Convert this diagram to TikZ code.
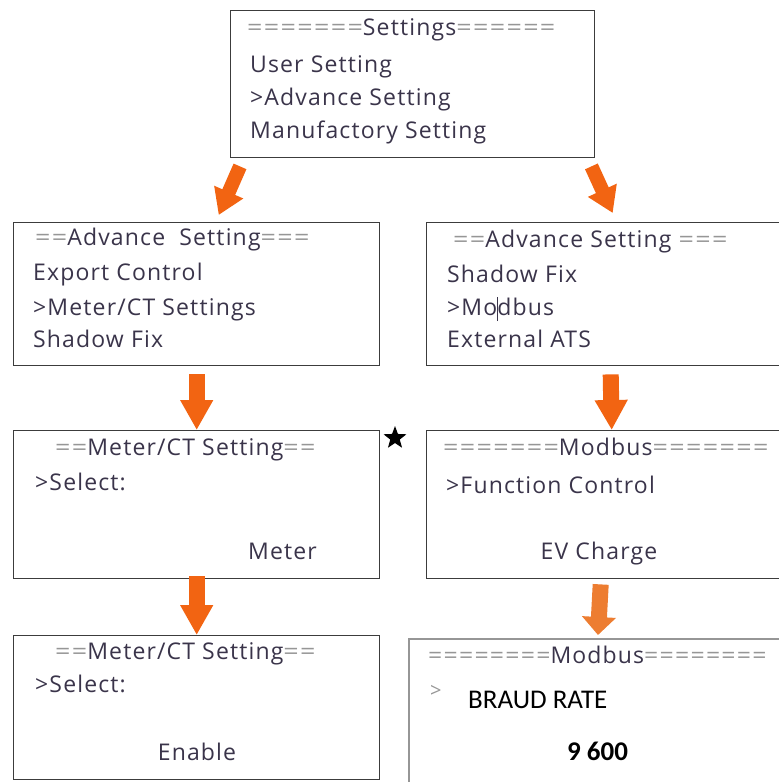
\documentclass[tikz,border=0pt]{standalone}
\usepackage{fontspec}
\setmainfont{Open Sans}[LetterSpace=5]
\newfontfamily\calfont{Carlito}
\usetikzlibrary{arrows.meta,shapes.geometric}

\definecolor{lcdframe}{RGB}{60,60,60}
\definecolor{lcdtext}{RGB}{58,52,74}
\definecolor{lcdrule}{RGB}{150,150,150}
\definecolor{flowarrow}{RGB}{242,100,18}
\definecolor{flowlight}{RGB}{237,125,49}

% the = runs on the screens are set wider than the letters
\newcommand{\eqs}[2][1.17]{\textcolor{lcdrule}{\scalebox{#1}[1]{#2}}}

\tikzset{
  screen/.style={draw=lcdframe, line width=1.4pt, inner sep=0pt, anchor=north west},
  lcdline/.style={anchor=base west, inner sep=0pt, text=lcdtext,
    font=\fontsize{23}{27}\selectfont},
  flow/.style={draw=flowarrow, line width=16pt,
    -{Triangle[width=31pt,length=30pt]}},
  flowslant/.style={draw=flowarrow, line width=14pt,
    -{Triangle[width=30pt,length=25pt]}}
}

\begin{document}
\begin{tikzpicture}[x=1pt,y=-1pt]

  \useasboundingbox (0,0) rectangle (779,782);
  \clip (0,0) rectangle (779,782);

  % screens (the right column runs off the page edge)
  \node[screen, minimum width=364pt, minimum height=147pt] (settings) at (230,10) {};
  \node[screen, minimum width=366pt, minimum height=143pt] (advL) at (13,222) {};
  \node[screen, minimum width=370pt, minimum height=143pt] (advR) at (426,222) {};
  \node[screen, minimum width=366pt, minimum height=148pt] (meterA) at (13,430) {};
  \node[screen, minimum width=370pt, minimum height=148pt] (modbusA) at (426,430) {};
  \node[screen, minimum width=366pt, minimum height=144pt] (meterB) at (13,635) {};
  \node[screen, draw=lcdrule, line width=2pt, minimum width=390pt, minimum height=160pt] (modbusB) at (408,638) {};

  % Settings
  \node[lcdline] (setT0) at (247,35) {\eqs{=======}Settings\eqs{======}};
  \node[lcdline] (setT1) at (250,72) {User Setting};
  \node[lcdline] (setT2) at (250,105) {>Advance Setting};
  \node[lcdline] (setT3) at (250,138) {Manufactory Setting};

  % Advance Setting, left
  \node[lcdline] (advLT0) at (35,245) {\eqs{==}Advance\ \ Setting\eqs{===}};
  \node[lcdline] (advLT1) at (33,280) {Export Control};
  \node[lcdline] (advLT2) at (33,315) {>Meter/CT Settings};
  \node[lcdline] (advLT3) at (33,347) {Shadow Fix};

  % Advance Setting, right
  \node[lcdline] (advRT0) at (453,247) {\eqs{==}Advance Setting \eqs{===}};
  \node[lcdline] (advRT1) at (447,282) {Shadow Fix};
  \node[lcdline] (advRT2) at (447,315) {>Mo\rlap{\rule[-6pt]{1pt}{24pt}}dbus};
  \node[lcdline] (advRT3) at (447,347) {External ATS};

  % Meter/CT Setting
  \node[lcdline] (meterAT0) at (55,455) {\eqs{==}Meter/CT Setting\eqs{==}};
  \node[lcdline] (meterAT1) at (35,490) {>Select:};
  \node[lcdline] (meterAT2) at (248,559) {Meter};

  % Modbus
  \node[lcdline] (modbusAT0) at (443,455) {\eqs{=======}Modbus\eqs{=======}};
  \node[lcdline] (modbusAT1) at (446,493) {>Function Control};
  \node[lcdline, anchor=base] (modbusAT2) at (599,559) {EV Charge};

  % Meter/CT Setting, enable
  \node[lcdline] (meterBT0) at (55,659) {\eqs{==}Meter/CT Setting\eqs{==}};
  \node[lcdline] (meterBT1) at (35,692) {>Select:};
  \node[lcdline, anchor=base] (meterBT2) at (197,760) {Enable};

  % Modbus, baud rate
  \node[lcdline] (modbusBT0) at (428,663) {\eqs[1.08]{========}Modbus\eqs[1.08]{========}};
  \node[lcdline, text=lcdrule, font=\fontsize{20}{24}\selectfont] (modbusBT1) at (430,697) {>};
  \node[anchor=base west, inner sep=0pt, font=\calfont\fontsize{27}{32}\selectfont] (modbusBT2) at (468,708) {BRAUD RATE};
  \node[anchor=base west, inner sep=0pt, font=\calfont\bfseries\fontsize{27}{32}\selectfont] (modbusBT3) at (567,760) {9 600};

  \node[star, star points=5, star point ratio=2.4, fill=black, minimum size=24pt, inner sep=0pt] (mark) at (395,438) {};

  % arrows between screens
  \draw[flowslant] ([shift={(10,8)}]settings.south west) -- ([shift={(22,-7)}]advL.north);
  \draw[flowslant] ([shift={(-4,8)}]settings.south east) -- ([shift={(1,-9)}]advR.north);
  \draw[flow] ([shift={(0,8)}]advL.south) -- (meterA.north);
  \draw[flow] ([shift={(-1,8)}]advR.south) -- (modbusA.north);
  \draw[flow] ([shift={(0,-3)}]meterA.south) -- (meterB.north);
  \draw[draw=flowlight, line width=16pt, -{Triangle[width=33pt,length=18pt]}]
    ([shift={(-11,5)}]modbusA.south) -- ([shift={(190,-3)}]modbusB.north west);

\end{tikzpicture}
\end{document}
